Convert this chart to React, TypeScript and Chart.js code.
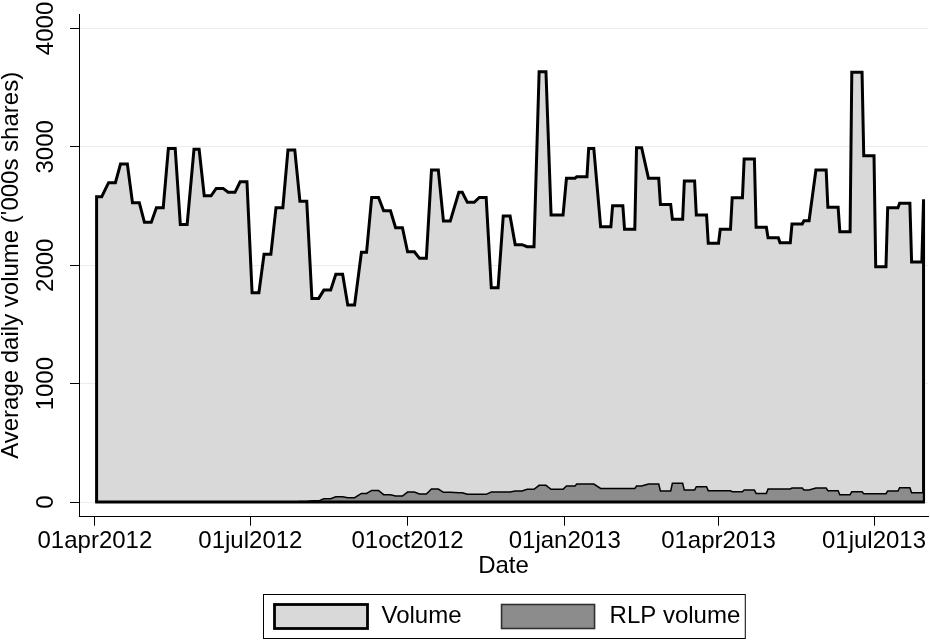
import React, { useEffect, useRef } from 'react';
import { Chart, registerables } from 'chart.js';

Chart.register(...registerables);

const FONT = '"Liberation Sans", Arial, Helvetica, sans-serif';

const SERIES_NAMES = ['Volume', 'RLP volume'];
const SERIES_FILLS = ['#d9d9d9', '#8c8c8c'];

// Calendar used by the data (weekly averages, shown on each trading day of the week)
const AXIS_ORIGIN = '2012-04-01';
const FIRST_TRADING_DAY = '2012-04-02';
const LAST_TRADING_DAY = '2013-07-30';
const MARKET_HOLIDAYS = [
  '2012-04-06', '2012-05-28', '2012-07-04', '2012-09-03', '2012-10-29', '2012-10-30',
  '2012-11-22', '2012-12-25', '2013-01-01', '2013-01-21', '2013-02-18', '2013-03-29',
  '2013-05-27', '2013-07-04',
];

// Weekly average daily volume ('000s shares), Stata weeks 2012w14 ... 2013w31
const VOLUME = [
  2579, 2697, 2855, 2528, 2362, 2486, 2987, 2345, 2979, 2587,
  2649, 2616, 2705, 1768, 2092, 2486, 2973, 2540, 1720, 1790,
  1923, 1664, 2109, 2573, 2460, 2317, 2114, 2058, 2804, 2373,
  2616, 2531, 2573, 1810, 2416, 2174, 2157, 3634, 2424,
  2734, 2748, 2987, 2325, 2503, 2303, 2992, 2734, 2514, 2388,
  2711, 2424, 2185, 2303, 2570, 2897, 2320, 2232, 2190, 2348,
  2376, 2804, 2489, 2283, 3629, 2925, 1987, 2486, 2523, 2027,
  2557,
];

const RLP_VOLUME = [
  0, 0, 0, 0, 0, 0, 0, 0, 0, 0,
  0, 0, 0, 0, 0, 0, 0, 5, 10, 28,
  45, 37, 73, 98, 62, 51, 84, 68, 110, 82,
  79, 65, 65, 84, 84, 93, 107, 141, 107,
  135, 152, 152, 115, 115, 115, 135, 152, 93, 158,
  101, 129, 96, 96, 87, 101, 73, 110, 110, 118,
  101, 118, 96, 62, 87, 70, 70, 93, 121, 79,
  79,
];

const X_TICK_DATES = ['2012-04-01', '2012-07-01', '2012-10-01', '2013-01-01', '2013-04-01', '2013-07-01'];
const X_TICK_LABELS = ['01apr2012', '01jul2012', '01oct2012', '01jan2013', '01apr2013', '01jul2013'];
const Y_TICKS = [0, 1000, 2000, 3000, 4000];
const X_RANGE_DATES = ['2012-03-22', '2013-08-01'];
const X_RANGE_PAD = [0.7, 0.6];
const Y_MIN = -124;
const Y_MAX = 4122;

const X_TITLE = 'Date';
const Y_TITLE = "Average daily volume ('000s shares)";

const DAY_MS = 86400000;
const utc = (iso: string) => {
  const [y, m, d] = iso.split('-').map(Number);
  return Date.UTC(y, m - 1, d);
};
const dayNum = (iso: string) => Math.round((utc(iso) - utc(AXIS_ORIGIN)) / DAY_MS);

function buildTradingDays() {
  const days: { day: number; week: number }[] = [];
  const t0 = utc(FIRST_TRADING_DAY);
  const t1 = utc(LAST_TRADING_DAY);
  let lastKey = -1;
  let week = -1;
  for (let t = t0; t <= t1; t += DAY_MS) {
    const dt = new Date(t);
    const wd = dt.getUTCDay();
    if (wd === 0 || wd === 6) continue;
    if (MARKET_HOLIDAYS.includes(dt.toISOString().slice(0, 10))) continue;
    const y = dt.getUTCFullYear();
    const doy = Math.round((t - Date.UTC(y, 0, 1)) / DAY_MS);
    const key = y * 100 + Math.min(Math.floor(doy / 7) + 1, 52);
    if (key !== lastKey) {
      week++;
      lastKey = key;
    }
    days.push({ day: Math.round((t - utc(AXIS_ORIGIN)) / DAY_MS), week });
  }
  return days;
}

function areaPoints(values: number[], days: { day: number; week: number }[]) {
  const pts = days.map((d) => ({ x: d.day, y: values[d.week] ?? 0 }));
  return [{ x: days[0].day, y: 0 }, ...pts, { x: days[days.length - 1].day, y: 0 }];
}

const boxLegend = {
  id: 'boxLegend',
  afterDraw(chart: any) {
    const ctx = chart.ctx as CanvasRenderingContext2D;
    const area = chart.chartArea;
    ctx.save();
    ctx.font = `24px ${FONT}`;
    const w1 = ctx.measureText(SERIES_NAMES[0]).width;
    const w2 = ctx.measureText(SERIES_NAMES[1]).width;
    const padL = 11, sw = 93, sh = 24, gapT = 14, gapItem = 40, padR = 6;
    const boxW = padL + sw + gapT + w1 + gapItem + sw + gapT + w2 + padR;
    const boxH = 44;
    const cx = (area.left + area.right) / 2;
    const left = Math.round(cx - boxW / 2) + 0.5;
    const top = 594.5;
    ctx.fillStyle = '#ffffff';
    ctx.fillRect(left, top, boxW, boxH);
    ctx.lineWidth = 1;
    ctx.strokeStyle = '#000000';
    ctx.strokeRect(left, top, boxW, boxH);
    const midY = top + boxH / 2;
    // item 1
    let x = left + padL;
    ctx.fillStyle = SERIES_FILLS[0];
    ctx.fillRect(x, midY - sh / 2, sw, sh);
    ctx.lineWidth = 2.8;
    ctx.strokeStyle = '#000000';
    ctx.strokeRect(x, midY - sh / 2, sw, sh);
    x += sw + gapT;
    ctx.fillStyle = '#000000';
    ctx.textBaseline = 'middle';
    ctx.textAlign = 'left';
    ctx.fillText(SERIES_NAMES[0], x, midY);
    x += w1 + gapItem;
    // item 2
    ctx.fillStyle = SERIES_FILLS[1];
    ctx.fillRect(x, midY - sh / 2, sw, sh);
    ctx.lineWidth = 1.6;
    ctx.strokeStyle = '#303030';
    ctx.strokeRect(x, midY - sh / 2, sw, sh);
    x += sw + gapT + 1;
    ctx.fillStyle = '#000000';
    ctx.fillText(SERIES_NAMES[1], x, midY);
    ctx.restore();
  },
};

export default function App() {
  const canvasRef = useRef<HTMLCanvasElement | null>(null);

  useEffect(() => {
    document.body.style.margin = '0';
    const canvas = canvasRef.current;
    if (!canvas) return;
    const days = buildTradingDays();
    const xTickDays = X_TICK_DATES.map(dayNum);
    const xMin = dayNum(X_RANGE_DATES[0]) + X_RANGE_PAD[0];
    const xMax = dayNum(X_RANGE_DATES[1]) + X_RANGE_PAD[1];
    const font = { family: FONT, size: 24 };

    const chart = new Chart(canvas, {
      type: 'line',
      data: {
        datasets: [
          {
            label: SERIES_NAMES[0],
            data: areaPoints(VOLUME, days),
            fill: 'origin',
            backgroundColor: SERIES_FILLS[0],
            borderColor: '#000000',
            borderWidth: 3,
            pointRadius: 0,
            tension: 0,
            borderJoinStyle: 'miter',
            order: 3,
          },
          {
            label: SERIES_NAMES[1],
            data: areaPoints(RLP_VOLUME, days),
            fill: 'origin',
            backgroundColor: SERIES_FILLS[1],
            borderColor: '#000000',
            borderWidth: 1.5,
            pointRadius: 0,
            tension: 0,
            borderJoinStyle: 'miter',
            order: 2,
          },
          {
            label: 'baseline',
            data: [
              { x: days[0].day, y: 0 },
              { x: days[days.length - 1].day, y: 0 },
            ],
            fill: false,
            borderColor: '#000000',
            borderWidth: 2.8,
            borderCapStyle: 'square',
            pointRadius: 0,
            order: 1,
          },
        ],
      } as any,
      options: {
        animation: false,
        responsive: false,
        devicePixelRatio: 1,
        layout: { padding: { top: 14, right: 2, bottom: 60, left: 0 } },
        plugins: {
          legend: { display: false },
          tooltip: { enabled: false },
        },
        scales: {
          x: {
            type: 'linear',
            min: xMin,
            max: xMax,
            afterBuildTicks: (s: any) => {
              s.ticks = xTickDays.map((v) => ({ value: v }));
            },
            afterFit: (s: any) => {
              s.height = 63.3;
              s.paddingLeft = 0;
              s.paddingRight = 0;
            },
            ticks: {
              autoSkip: false,
              minRotation: 0,
              maxRotation: 0,
              padding: 1,
              color: '#000000',
              font,
              callback: (_v: any, i: number) => X_TICK_LABELS[i],
            },
            grid: {
              drawOnChartArea: false,
              drawTicks: true,
              tickLength: 9,
              tickColor: '#000000',
              lineWidth: 1,
            },
            border: { display: true, color: '#000000', width: 1 },
            title: {
              display: true,
              text: X_TITLE,
              color: '#000000',
              font,
              padding: { top: 0, bottom: -1 },
            },
          },
          y: {
            type: 'linear',
            min: Y_MIN,
            max: Y_MAX,
            afterBuildTicks: (s: any) => {
              s.ticks = Y_TICKS.map((v) => ({ value: v }));
            },
            afterFit: (s: any) => {
              s.width = 79;
              s.paddingTop = 0;
              s.paddingBottom = 0;
            },
            ticks: {
              minRotation: 90,
              maxRotation: 90,
              crossAlign: 'center',
              padding: -3,
              color: '#000000',
              font,
              callback: (v: any) => String(v),
            },
            grid: {
              drawOnChartArea: true,
              color: '#e6eef0',
              lineWidth: 1,
              drawTicks: true,
              tickLength: 9,
              tickColor: '#000000',
            },
            border: { display: true, color: '#000000', width: 1 },
            title: {
              display: true,
              text: Y_TITLE,
              color: '#000000',
              font,
              padding: { top: -3, bottom: 0 },
            },
          },
        },
      } as any,
      plugins: [boxLegend],
    });

    return () => chart.destroy();
  }, []);

  return (
    <div style={{ width: 930, height: 640 }}>
      <canvas ref={canvasRef} width={930} height={640} style={{ display: 'block' }} />
    </div>
  );
}
